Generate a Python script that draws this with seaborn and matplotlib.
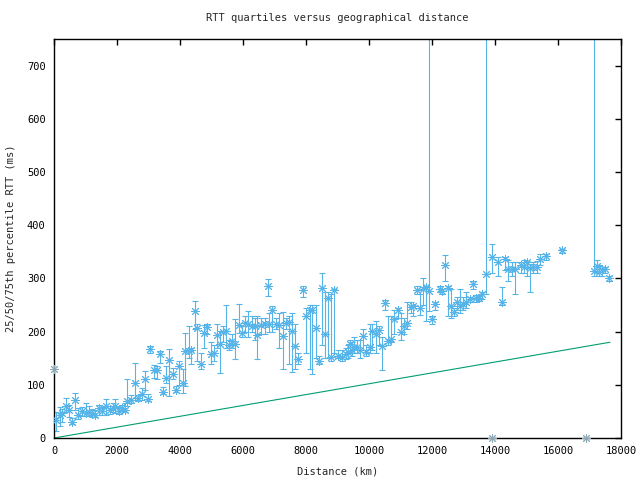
import matplotlib
matplotlib.use("Agg")
import matplotlib.pyplot as plt
import seaborn as sns
import pandas as pd
import numpy as np

# distance (km), median RTT, 25th and 75th percentile (ms)
distance = [50, 190, 240, 390, 475, 560, 660, 770, 875, 1000, 1105, 1210, 1315, 1420, 1530,
            1665, 1770, 1875, 1950, 2050, 2160, 2245, 2315, 2440, 2560, 2665, 2790, 2875, 2970,
            3055, 3180, 3265, 3350, 3475, 3560, 3665, 3770, 3865, 3970, 4085, 4160, 4285, 4340,
            4476, 4550, 4665, 4770, 4865, 4970, 5085, 5160, 5265, 5350, 5455, 5560, 5655, 5760,
            5865, 5970, 6075, 6160, 6285, 6370, 6455, 6580, 6710, 6795, 6815, 6930, 7035, 7140,
            7265, 7350, 7445, 7540, 7635, 7740, 7905, 7990, 8118, 8200, 8307, 8413, 8520, 8603,
            8700, 8784, 8890, 9016, 9150, 9260, 9333, 9397, 9470, 9525, 9610, 9715, 9822, 9917,
            10023, 10108, 10214, 10320, 10403, 10508, 10615, 10690, 10794, 10920, 11026, 11110,
            11217, 11323, 11410, 11536, 11620, 11730, 11800, 11905, 12013, 12095, 12240, 12330,
            12413, 12520, 12600, 12690, 12780, 12890, 12970, 13080, 13200, 13302, 13386, 13490,
            13597, 13727, 13895, 14110, 14235, 14320, 14420, 14550, 14640, 14810, 14920, 15000,
            15115, 15220, 15325, 15430, 15610, 16117, 17143, 17250, 17300, 17410, 17500, 17620]
median = [33, 44, 47, 61, 53, 31, 72, 44, 50, 47, 48, 47, 44, 57, 50,
          60, 53, 57, 61, 50, 57, 53, 69, 72, 103, 75, 82, 111, 74,
          167, 128, 128, 158, 86, 112, 147, 121, 91, 135, 103, 163, 163, 165,
          239, 206, 140, 198, 208, 157, 160, 193, 176, 199, 202, 174, 182, 176,
          212, 198, 216, 215, 211, 211, 193, 212, 215, 285, 214, 241, 215, 212,
          191, 217, 218, 201, 173, 148, 279, 229, 240, 241, 207, 144, 282, 196,
          264, 153, 278, 155, 152, 157, 161, 177, 166, 171, 171, 166, 191, 161,
          171, 202, 195, 203, 172, 254, 183, 187, 224, 241, 200, 211,
          216, 247, 248, 279, 245, 280, 284, 276, 224, 251, 280, 276,
          326, 282, 248, 236, 255, 248, 252, 255, 262, 289, 263, 263,
          271, 309, 341, 330, 255, 336, 318, 317, 318, 325, 322, 330,
          320, 322, 322, 337, 342, 353, 314, 323, 312, 317, 318, 301]
q25 = [14, 22, 30, 48, 40, 27, 53, 36, 42, 42, 42, 40, 40, 44, 44,
       44, 46, 48, 47, 45, 50, 48, 60, 66, 72, 70, 72, 91, 70,
       160, 113, 110, 141, 82, 104, 79, 110, 86, 100, 85, 97, 150, 140,
       204, 145, 130, 170, 195, 140, 145, 170, 123, 180, 170, 165, 170, 148,
       198, 190, 200, 190, 200, 185, 148, 195, 195, 267, 200, 200, 205, 170,
       129, 205, 140, 125, 130, 140, 265, 160, 130, 120, 150, 140, 175, 150,
       150, 145, 160, 150, 145, 148, 150, 160, 155, 160, 160, 150, 165, 155,
       160, 165, 160, 175, 128, 240, 175, 180, 195, 225, 185, 195,
       205, 235, 230, 270, 232, 250, 220, 238, 215, 240, 275, 270,
       296, 230, 225, 230, 240, 235, 240, 245, 255, 280, 255, 258,
       262, 270, 310, 305, 250, 315, 295, 305, 270, 310, 310, 305,
       275, 310, 310, 325, 335, 348, 305, 310, 305, 305, 310, 296]
q75 = [48, 58, 55, 75, 62, 38, 85, 56, 58, 65, 60, 55, 52, 62, 58,
       74, 60, 65, 74, 58, 62, 65, 110, 80, 141, 80, 94, 126, 82,
       173, 138, 135, 163, 95, 135, 167, 132, 98, 145, 129, 198, 210, 170,
       258, 215, 160, 212, 215, 180, 175, 215, 201, 210, 250, 185, 195, 223,
       252, 210, 230, 238, 230, 225, 230, 225, 225, 298, 235, 248, 225, 235,
       236, 225, 230, 235, 215, 160, 285, 245, 250, 250, 250, 155, 311, 275,
       275, 270, 280, 165, 165, 170, 175, 185, 180, 190, 185, 185, 205, 175,
       215, 215, 220, 210, 189, 260, 230, 230, 240, 245, 235, 225,
       255, 255, 250, 285, 270, 300, 285, 1500, 230, 255, 285, 280,
       344, 285, 280, 245, 265, 280, 265, 275, 265, 295, 268, 268,
       275, 1500, 365, 340, 284, 340, 335, 330, 330, 330, 335, 332,
       328, 330, 332, 345, 345, 356, 1500, 335, 325, 320, 322, 305]

# outlier points (grey asterisks)
out_x = [0, 13900, 16900]
out_y = [130, 0, 0]

# speed-of-light reference line
ref_x = [0, 17650]
ref_y = [0, 180]

sns.set_style("white")
plt.rcParams["font.family"] = ["DejaVu Sans Mono"]
plt.rcParams["font.size"] = 7.5

fig = plt.figure(figsize=(6.4, 4.8), dpi=100)
ax = fig.add_axes([54 / 640, 42 / 480, 567 / 640, 399 / 480])

df = pd.DataFrame({"distance": distance, "median": median, "q25": q25, "q75": q75})
blue = "#56b4e9"
green = "#009e73"

ax.errorbar(df["distance"], df["median"],
            yerr=[df["median"] - df["q25"], df["q75"] - df["median"]],
            fmt="none", ecolor=blue, elinewidth=0.8, capsize=2.2, capthick=0.8, zorder=2)
sns.scatterplot(data=df, x="distance", y="median", ax=ax, marker=(8, 2, 0), s=34,
                color=blue, linewidth=0.7, edgecolor=blue, zorder=3, legend=False)
sns.scatterplot(x=out_x, y=out_y, ax=ax, marker=(8, 2, 0), s=34, color="#8fa8b8",
                linewidth=0.7, edgecolor="#8fa8b8", zorder=3, legend=False, clip_on=False)
sns.lineplot(x=ref_x, y=ref_y, ax=ax, color=green, linewidth=0.8, zorder=2)

ax.set_xlim(0, 18000)
ax.set_ylim(0, 750)
ax.set_xticks(range(0, 18001, 2000))
ax.set_yticks(range(0, 701, 100))
ax.tick_params(direction="in", length=4, width=1, top=True, right=True,
               labelsize=7.5, pad=6, colors="black")
for s in ax.spines.values():
    s.set_visible(True)
    s.set_color("black")
    s.set_linewidth(1.0)

ax.set_xlabel("Distance (km)", fontsize=7.5, labelpad=7)
ax.set_ylabel("25/50/75th percentile RTT (ms)", fontsize=7.5, labelpad=8)
ax.set_title("RTT quartiles versus geographical distance", fontsize=7.5, pad=13)

fig.savefig("out.png", dpi=100)
